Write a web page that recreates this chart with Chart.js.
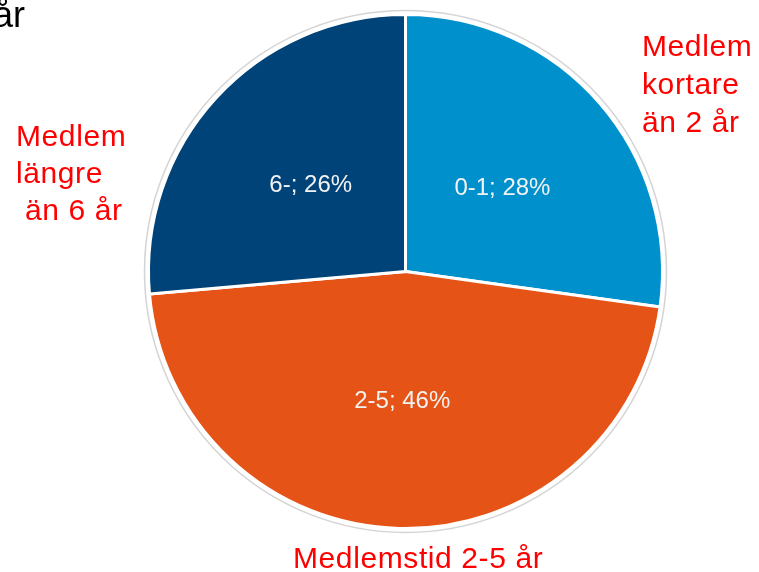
<!DOCTYPE html>
<html>
<head>
<meta charset="utf-8">
<script src="https://cdn.jsdelivr.net/npm/chart.js@4/dist/chart.umd.min.js"></script>
<style>
  html, body { margin: 0; padding: 0; background: #fff; }
  #wrap { position: relative; width: 759px; height: 572px; overflow: hidden; }
  canvas { position: absolute; left: 0; top: 0; }
  .note { position: absolute; font-family: "Liberation Sans", Arial, sans-serif; color: #ff0000; font-size: 30px; letter-spacing: 0.6px; white-space: pre; }
</style>
</head>
<body>
<div id="wrap">
  <canvas id="c" width="759" height="572"></canvas>
  <div class="note" style="right:734px; top:-3px; color:#000; font-size:36px; line-height:36px; letter-spacing:0;">år</div>
  <div class="note" style="left:642px; top:27px; line-height:38px;">Medlem
kortare
än 2 år</div>
  <div class="note" style="left:16px; top:117px; line-height:37px;">Medlem
längre
 än 6 år</div>
  <div class="note" style="left:293px; top:539px; line-height:38px;">Medlemstid 2-5 år</div>
</div>
<script>
// Categories (membership duration groups)
const categories = ["0-1", "2-5", "6-"];
const shares = [27.2, 46.4, 26.4];
// Percentages printed in the slice labels
const pctLabels = [28, 46, 26];
const sliceColors = ["#0091cd", "#e65316", "#004379"];

const labelPlugin = {
  id: 'sliceLabels',
  beforeDatasetsDraw(chart) {
    const arc = chart.getDatasetMeta(0).data[0];
    if (!arc) return;
    const ctx = chart.ctx;
    ctx.save();
    ctx.beginPath();
    ctx.arc(arc.x, arc.y, arc.outerRadius + 4, 0, Math.PI * 2);
    ctx.strokeStyle = 'rgba(170,170,170,0.5)';
    ctx.lineWidth = 1.5;
    ctx.stroke();
    ctx.restore();
  },
  afterDatasetsDraw(chart) {
    const ctx = chart.ctx;
    const meta = chart.getDatasetMeta(0);
    ctx.save();
    ctx.font = '24px "Liberation Sans", Arial, sans-serif';
    ctx.fillStyle = '#f2f2f2';
    ctx.textAlign = 'center';
    ctx.textBaseline = 'middle';
    meta.data.forEach((el, i) => {
      const p = el.tooltipPosition();
      ctx.fillText(categories[i] + '; ' + pctLabels[i] + '%', p.x, p.y + 1);
    });
    ctx.restore();
  }
};

new Chart(document.getElementById('c'), {
  type: 'pie',
  data: {
    labels: categories,
    datasets: [{
      data: shares,
      backgroundColor: sliceColors,
      borderColor: '#ffffff',
      borderWidth: 3
    }]
  },
  options: {
    responsive: false,
    animation: false,
    layout: { padding: { left: 147, right: 95, top: 13, bottom: 42 } },
    plugins: { legend: { display: false }, tooltip: { enabled: false } }
  },
  plugins: [labelPlugin]
});
</script>
</body>
</html>
